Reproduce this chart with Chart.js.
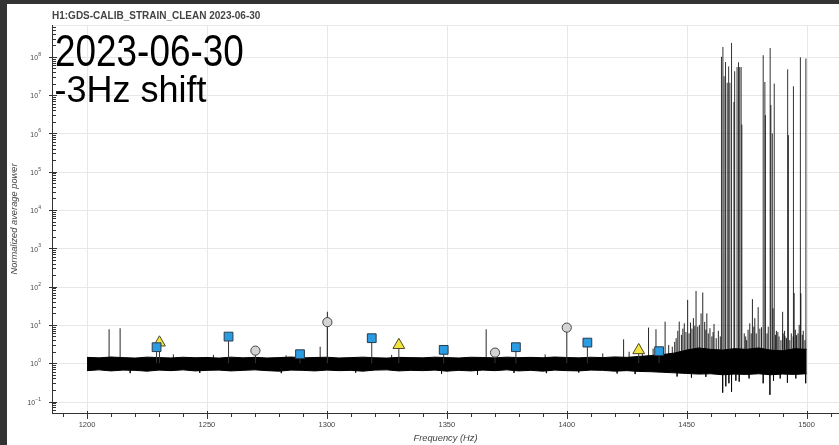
<!DOCTYPE html>
<html>
<head>
<meta charset="utf-8">
<script src="https://cdn.jsdelivr.net/npm/chart.js@4/dist/chart.umd.min.js"></script>
<style>
  html, body { margin: 0; padding: 0; background: #333333; }
  canvas { display: block; }
</style>
</head>
<body>
<canvas id="spectrum" width="839" height="445"></canvas>
<script>
// ---- spectrum envelope (normalized power), sampled every 5 Hz ----
const bandFreq = [1200,1205,1210,1215,1220,1225,1230,1235,1240,1245,
                  1250,1255,1260,1265,1270,1275,1280,1285,1290,1295,
                  1300,1305,1310,1315,1320,1325,1330,1335,1340,1345,
                  1350,1355,1360,1365,1370,1375,1380,1385,1390,1395,
                  1400,1405,1410,1415,1420,1425,1430,1435,1440,1445,
                  1450,1455,1460,1465,1470,1475,1480,1485,1490,1495,1500];
const bandHigh = [1.42,1.38,1.45,1.40,1.36,1.44,1.40,1.37,1.43,1.39,
                  1.41,1.36,1.44,1.38,1.42,1.37,1.40,1.45,1.38,1.41,
                  1.43,1.37,1.40,1.44,1.39,1.36,1.42,1.40,1.38,1.44,
                  1.40,1.37,1.43,1.41,1.38,1.44,1.40,1.42,1.39,1.45,
                  1.41,1.38,1.43,1.40,1.46,1.42,1.50,1.58,1.68,1.85,
                  2.2,2.5,2.3,2.2,2.4,2.3,2.5,2.2,2.1,2.4,2.3];
const bandLow  = [0.64,0.67,0.63,0.66,0.65,0.62,0.66,0.64,0.67,0.63,
                  0.65,0.66,0.63,0.65,0.67,0.64,0.62,0.66,0.65,0.63,
                  0.66,0.64,0.65,0.62,0.66,0.67,0.63,0.65,0.64,0.66,
                  0.62,0.65,0.63,0.66,0.64,0.67,0.63,0.65,0.62,0.66,
                  0.64,0.63,0.66,0.65,0.62,0.64,0.61,0.60,0.58,0.56,
                  0.54,0.52,0.53,0.50,0.52,0.51,0.53,0.50,0.52,0.51,0.53];

// ---- narrow lines in the quiet part of the band ----
const lineFreq = [1209.2,1213.8,1236.0,1252.7,1283.0,1297.2,1300.2,1327.0,1366.4,1391.0,1415.0,1423.7,1426.0];
const lineTop  = [7.7,   8.2,   1.7,   1.65,  1.6,   2.7,   22,    1.65,  7.7,   1.7,   1.8,   4.2,   2.0];
const dipFreq  = [1218.0,1247.0,1281.0,1312.0,1347.8,1362.8,1378.0,1391.5,1405.0,1421.0,1428.5];
const dipLow   = [0.55,  0.56,  0.55,  0.57,  0.53,  0.50,  0.56,  0.55,  0.57,  0.54,  0.52];

// ---- dense lines above 1430 Hz ----
const grassFreq = [1431.5,1434.1,1436.0,1437.2,1439.5,1441.0,1442.5,1444.0,1445.0,1445.6,
                   1446.3,1446.9,1447.8,1448.4,1449.0,1449.7,1450.4,1451.0,1451.6,1452.2,
                   1452.8,1453.4,1453.9,1454.6,1455.3,1456.0,1456.7,1457.5,1458.0,1458.4,
                   1459.0,1459.7,1460.5,1461.0,1461.4,1462.3,1463.2,1464.0,1474.0,1474.6,
                   1475.0,1475.6,1476.3,1476.9,1477.4,1478.0,1478.4,1479.0,1479.8,1480.5,
                   1481.2,1483.5,1484.0,1486.0,1487.0,1487.4,1488.0,1488.5,1489.3,1490.0,
                   1490.2,1490.8,1491.0,1491.6,1493.0,1493.6,1494.4,1494.8,1495.3,1495.8,
                   1496.4,1496.9,1497.6,1498.2,1498.6,1499.3];
const grassTop  = [2.0, 8.5, 2.4, 7.7, 2.6, 12.2,3.0, 2.7, 3.6, 4.5,
                   7.0, 12.2,5.5, 8.0, 11,  6.5, 45,  6,   11.5,8,
                   15,  9.5, 77,  9,   10,  20,  70,  12,  7.5, 20,
                   6,   8.2, 5,   6.5, 10.6,4.5, 7,   5,   6,   5.0,
                   4,   7.5, 11,  6.0, 47,  9.0, 15,  6,   29,  8,
                   8.7, 6,   9,   27,  5.5, 7,   6.5, 5,   4,   22,
                   6,   7.0, 5,   4.5, 4,   6.0, 5,   68,  7.5, 5.4,
                   6.0, 10,  67,  5.5, 7,   4];
const grassDipFreq = [1446.0,1452.0,1458.0,1465.0,1466.3,1467.6,1468.7,1470.5,1471.9,1476.0,
                      1481.9,1484.7,1486.2,1489.0,1492.0,1495.5,1499.6];
const grassDipLow  = [0.45,0.42,0.44,0.17,0.25,0.30,0.18,0.35,0.33,0.40,
                      0.30,0.15,0.35,0.40,0.31,0.40,0.30];

// ---- very strong lines ----
const tallFreq = [1464.5,1465.1,1465.6,1466.2,1466.9,1467.5,1468.0,1468.7,1469.7,1470.0,
                  1471.0,1471.6,1472.1,1472.7,1473.0,1481.9,1482.6,1482.8,1484.8,1485.1,
                  1485.7,1486.5,1492.1,1492.4,1494.5,1497.4,1499.7];
const tallTop  = [1.0e8,1.8e8,3.1e7,7.3e7,2.1e7,5.6e7,2.1e7,2.3e8,6.6e6,4.2e7,
                  5.4e7,7.2e7,5.4e7,5.4e7,1.7e6,1.1e8,2.2e7,3.0e6,1.7e8,5.5e6,
                  1.0e6,2.0e7,4.7e7,9.0e5,1.7e7,9.7e7,9.0e7];

// ---- flagged lines ----
const squareFreq = [1229.0,1259.0,1288.8,1318.7,1348.7,1378.8,1408.6,1438.5];
const squareVal  = [2.62, 4.95, 1.72, 4.5, 2.23, 2.62, 3.45, 2.06];
const triFreq    = [1230.2,1330.0,1430.0];
const triVal     = [3.45, 2.97, 2.18];
const circFreq   = [1270.2,1300.2,1370.1,1400.0];
const circVal    = [2.13, 11.8, 1.89, 8.5];

// ---- axis ticks ----
const xMajorTicks = [1200,1250,1300,1350,1400,1450,1500];
const yDecades    = [-1,0,1,2,3,4,5,6,7,8];

const X_MIN = 1185.4, X_MAX = 1513.5;
const Y_MIN = Math.pow(10, -1.30), Y_MAX = Math.pow(10, 8.83);
const FONT = '"Liberation Sans", Arial, Helvetica, sans-serif';

const pts = (xs, ys) => xs.map((x, i) => ({ x, y: ys[i] }));
// vertical segments from a base level, separated by gaps
const segments = (xs, ys, base) => {
  const out = [];
  xs.forEach((x, i) => { out.push({ x, y: base }, { x, y: ys[i] }, { x, y: null }); });
  return out;
};

const framePlugin = {
  id: 'frame',
  beforeDraw(chart) {
    const c = chart.ctx;
    c.save();
    c.fillStyle = '#333333';
    c.fillRect(0, 0, chart.width, chart.height);
    c.fillStyle = '#ffffff';
    c.fillRect(7, 4, chart.width - 7, chart.height - 4);
    c.restore();
  },
  beforeDatasetsDraw(chart) {
    const c = chart.ctx, a = chart.chartArea;
    const xs = chart.scales.x, ys = chart.scales.y;
    c.save();
    c.strokeStyle = '#e8e8e8';
    c.lineWidth = 1;
    c.beginPath();
    xMajorTicks.forEach(f => {
      const px = Math.round(xs.getPixelForValue(f)) + 0.5;
      c.moveTo(px, a.top); c.lineTo(px, a.bottom);
    });
    yDecades.forEach(n => {
      const py = Math.round(ys.getPixelForValue(Math.pow(10, n))) + 0.5;
      c.moveTo(a.left, py); c.lineTo(a.right, py);
    });
    c.moveTo(a.left, a.top + 0.5); c.lineTo(a.right, a.top + 0.5);
    c.stroke();
    c.restore();
  },
  afterDatasetsDraw(chart) {
    const c = chart.ctx, a = chart.chartArea;
    const xs = chart.scales.x, ys = chart.scales.y;
    c.save();
    c.strokeStyle = '#333333';
    c.lineWidth = 1;
    c.beginPath();
    // axis lines
    c.moveTo(a.left + 0.5, a.top); c.lineTo(a.left + 0.5, a.bottom + 1);
    c.moveTo(a.left, a.bottom + 0.5); c.lineTo(a.right, a.bottom + 0.5);
    // x ticks every 10 Hz
    for (let f = Math.ceil(X_MIN / 10) * 10; f <= X_MAX; f += 10) {
      const px = Math.round(xs.getPixelForValue(f)) + 0.5;
      if (f % 50 === 0) { c.moveTo(px, a.bottom - 2); c.lineTo(px, a.bottom + 6); }
      else { c.moveTo(px, a.bottom); c.lineTo(px, a.bottom + 4); }
    }
    // y ticks: decades and 2..9 between them
    for (let n = -2; n <= 9; n++) {
      for (let k = 1; k <= 9; k++) {
        const v = k * Math.pow(10, n);
        if (v < Y_MIN || v > Y_MAX) continue;
        const py = Math.round(ys.getPixelForValue(v)) + 0.5;
        if (k === 1) { c.moveTo(a.left - 3, py); c.lineTo(a.left + 5, py); }
        else { c.moveTo(a.left, py); c.lineTo(a.left + 4, py); }
      }
    }
    c.stroke();

    // y tick labels: 10 with a raised exponent
    c.fillStyle = '#444444';
    c.textBaseline = 'alphabetic';
    yDecades.forEach(n => {
      const py = ys.getPixelForValue(Math.pow(10, n));
      const exp = n < 0 ? '\u2212' + Math.abs(n) : String(n);
      c.font = '5px ' + FONT;
      const ew = c.measureText(exp).width;
      c.textAlign = 'left';
      c.fillText(exp, 41 - ew, py - 1);
      c.font = '6.8px ' + FONT;
      c.textAlign = 'right';
      c.fillText('10', 41 - ew - 0.3, py + 3.2);
    });
    c.restore();
  },
  afterDraw(chart) {
    const c = chart.ctx, a = chart.chartArea;
    c.save();
    // plot title
    c.fillStyle = '#444444';
    c.font = 'bold 10px ' + FONT;
    c.textAlign = 'left';
    c.textBaseline = 'alphabetic';
    c.fillText('H1:GDS-CALIB_STRAIN_CLEAN 2023-06-30', 52, 18.5);
    // axis titles
    c.font = 'italic 9.3px ' + FONT;
    c.textAlign = 'center';
    c.textBaseline = 'middle';
    c.fillText('Frequency (Hz)', (a.left + a.right) / 2, 438);
    c.translate(14, (a.top + a.bottom) / 2);
    c.rotate(-Math.PI / 2);
    c.fillText('Normalized average power', 0, 0);
    c.setTransform(1, 0, 0, 1, 0, 0);
    // annotation: date line set a little narrower than the second line
    c.fillStyle = '#000000';
    c.textAlign = 'left';
    c.textBaseline = 'alphabetic';
    c.font = '45px ' + FONT;
    c.translate(55, 65.7);
    c.scale(0.82, 1);
    c.fillText('2023-06-30', 0, 0);
    c.setTransform(1, 0, 0, 1, 0, 0);
    c.font = '36px ' + FONT;
    c.fillText('-3Hz shift', 54.5, 101.7);
    c.restore();
  }
};

const ctx = document.getElementById('spectrum').getContext('2d');
new Chart(ctx, {
  type: 'line',
  data: {
    datasets: [
      { // flagged markers
        data: pts(squareFreq, squareVal), showLine: false, order: 0,
        pointStyle: 'rect', pointRadius: 6.2, pointBackgroundColor: '#2b9be2',
        pointBorderColor: '#2a3a4a', pointBorderWidth: 1
      },
      {
        data: pts(triFreq, triVal), showLine: false, order: 0,
        pointStyle: 'triangle', pointRadius: 6.8, pointBackgroundColor: '#f2e43c',
        pointBorderColor: '#4a4a2a', pointBorderWidth: 1
      },
      {
        data: pts(circFreq, circVal), showLine: false, order: 0,
        pointStyle: 'circle', pointRadius: 4.6, pointBackgroundColor: '#d4d4d4',
        pointBorderColor: '#444444', pointBorderWidth: 1
      },
      { // marker stems
        data: segments(squareFreq.concat(triFreq, circFreq), squareVal.concat(triVal, circVal), 1.0),
        borderColor: '#333333', borderWidth: 1, pointRadius: 0, spanGaps: false, order: 1
      },
      { // strong lines
        data: segments(tallFreq, tallTop, 1.0),
        borderColor: 'rgba(0,0,0,0.8)', borderWidth: 1, pointRadius: 0, spanGaps: false, order: 2
      },
      { // dense lines and narrow lines
        data: segments(grassFreq, grassTop, 1.0).concat(segments(lineFreq, lineTop, 1.0)),
        borderColor: 'rgba(0,0,0,0.85)', borderWidth: 1, pointRadius: 0, spanGaps: false, order: 2
      },
      { // downward excursions
        data: segments(grassDipFreq, grassDipLow, 1.0).concat(segments(dipFreq, dipLow, 1.0)),
        borderColor: 'rgba(0,0,0,0.75)', borderWidth: 1, pointRadius: 0, spanGaps: false, order: 2
      },
      { // band upper edge, filled down to the lower edge
        data: pts(bandFreq, bandHigh), borderColor: '#000000', borderWidth: 1,
        backgroundColor: '#000000', fill: '+1', pointRadius: 0, order: 3
      },
      { // band lower edge
        data: pts(bandFreq, bandLow), borderColor: '#000000', borderWidth: 1,
        pointRadius: 0, fill: false, order: 3
      }
    ]
  },
  options: {
    responsive: false,
    animation: false,
    devicePixelRatio: 1,
    layout: { autoPadding: false, padding: { left: 0, top: 25, right: 0, bottom: 0 } },
    plugins: { legend: { display: false }, tooltip: { enabled: false }, title: { display: false } },
    elements: { line: { tension: 0 } },
    scales: {
      x: {
        type: 'linear', min: X_MIN, max: X_MAX,
        grid: { display: false, drawTicks: false }, border: { display: false },
        ticks: {
          stepSize: 10, autoSkip: false, maxRotation: 0, padding: 7,
          color: '#444444', font: { family: FONT, size: 7.5 },
          callback: v => (xMajorTicks.includes(v) ? String(v) : '')
        },
        afterFit: s => { s.height = 32; s.paddingLeft = 0; s.paddingRight = 0; }
      },
      y: {
        type: 'logarithmic', min: Y_MIN, max: Y_MAX,
        grid: { display: false, drawTicks: false }, border: { display: false },
        ticks: { display: false },
        afterFit: s => { s.width = 52; s.paddingTop = 0; s.paddingBottom = 0; }
      }
    }
  },
  plugins: [framePlugin]
});
</script>
</body>
</html>
